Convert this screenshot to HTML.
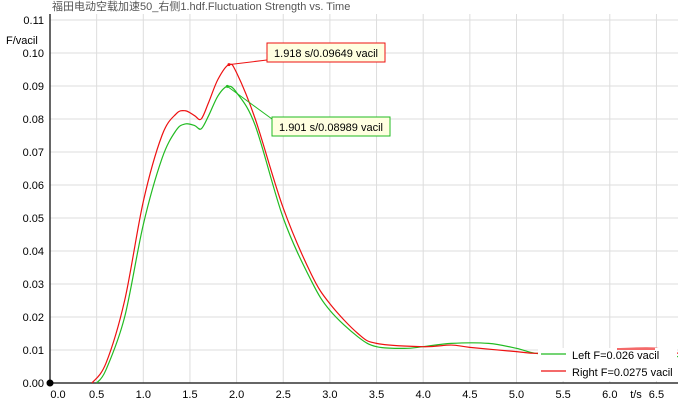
<!DOCTYPE html>
<html><head><meta charset="utf-8"><style>
body{margin:0;background:#fff;}
svg{font-family:"Liberation Sans","Noto Sans CJK SC",sans-serif;}
</style></head><body>
<svg id="c" width="680" height="407">
<text x="52" y="10" font-size="11" fill="#555">福田电动空载加速50_右侧1.hdf.Fluctuation Strength vs. Time</text>
<text x="6" y="44" font-size="11" fill="#000">F/vacil</text>
<g id="grid"></g><g id="ticks"></g><g id="series"></g><g id="ann"></g>
</svg>
<script>
const xTicks=[0.0,0.5,1.0,1.5,2.0,2.5,3.0,3.5,4.0,4.5,5.0,5.5,6.0,6.5];
const yTicks=[0.00,0.01,0.02,0.03,0.04,0.05,0.06,0.07,0.08,0.09,0.10,0.11];
const tRight=[0.45,0.6,0.8,1.0,1.2,1.35,1.45,1.55,1.62,1.7,1.8,1.918,2.0,2.2,2.5,2.8,3.0,3.3,3.5,4.0,4.3,4.5,5.0,5.2,5.5,6.0,6.5,6.73];
const vRight=[0,0.006,0.025,0.055,0.075,0.0815,0.0825,0.081,0.080,0.085,0.092,0.09649,0.094,0.080,0.053,0.033,0.024,0.015,0.012,0.011,0.0115,0.0108,0.0095,0.009,0.0095,0.0103,0.0105,0.009];
const tLeft=[0.5,0.6,0.8,1.0,1.2,1.35,1.45,1.55,1.62,1.7,1.8,1.901,2.0,2.2,2.5,2.8,3.0,3.3,3.5,3.8,4.0,4.3,4.7,5.0,5.2,5.5,6.0,6.5,6.73];
const vLeft=[0,0.004,0.02,0.048,0.068,0.0765,0.0785,0.078,0.077,0.081,0.087,0.08989,0.088,0.078,0.050,0.031,0.022,0.014,0.011,0.0105,0.011,0.012,0.012,0.0105,0.009,0.0085,0.0085,0.0085,0.008];
const X0=50,X1=678,Y0=383,Y1=14;
const sx=t=>X0+t*93.3, sy=v=>Y0-v*3300;
const NS="http://www.w3.org/2000/svg";
function mk(tag,attrs,parent,txt){const e=document.createElementNS(NS,tag);for(const k in attrs)e.setAttribute(k,attrs[k]);if(txt!==undefined)e.textContent=txt;parent.appendChild(e);return e;}
const g=document.getElementById('grid'),tk=document.getElementById('ticks'),s=document.getElementById('series'),an=document.getElementById('ann');
xTicks.forEach(t=>{if(t>0){const l=mk('line',{x1:sx(t),x2:sx(t),y1:Y1,y2:Y0,stroke:'#ddd'},g);

}
const lbl=t===6.5?'6.5':t.toFixed(1);
const tx=mk('text',{x:t===0?58:sx(t),y:398,'font-size':11,'text-anchor':'middle'},tk,lbl);

});
yTicks.forEach(v=>{if(v>0){const l=mk('line',{x1:X0,x2:X1,y1:sy(v),y2:sy(v),stroke:'#ddd'},g);

}
const tx=mk('text',{x:44,y:sy(v)+4,'font-size':11,'text-anchor':'end'},tk,v.toFixed(2));

});
const tl=mk('text',{x:636,y:398,'font-size':11,'text-anchor':'middle'},tk,'t/s');


const ax=mk('path',{d:`M${X0},${Y1}V${Y0}H${X1}`,fill:'none',stroke:'#333','stroke-width':1.5},tk);


const dot=mk('circle',{cx:X0,cy:Y0,r:3.5,fill:'#000'},tk);


function smooth(pts){let d=`M${pts[0][0]},${pts[0][1]}`;
for(let i=0;i<pts.length-1;i++){const p0=pts[Math.max(i-1,0)],p1=pts[i],p2=pts[i+1],p3=pts[Math.min(i+2,pts.length-1)];
const c1=[p1[0]+(p2[0]-p0[0])/6,p1[1]+(p2[1]-p0[1])/6],c2=[p2[0]-(p3[0]-p1[0])/6,p2[1]-(p3[1]-p1[1])/6];
d+=`C${c1[0]},${c1[1]} ${c2[0]},${c2[1]} ${p2[0]},${p2[1]}`;}return d;}
function line(ts,vs,col,name){const p=mk('path',{d:smooth(ts.map((t,i)=>[sx(t),sy(vs[i])])),fill:'none',stroke:col,'stroke-width':1.2},s);

}
line(tLeft,vLeft,'#22bb22','left-series-line');
line(tRight,vRight,'#ee1111','right-series-line');
const lg=mk('g',{},an);


mk('rect',{x:538,y:348,width:139,height:33,fill:'#fff'},lg);
mk('line',{x1:541,x2:566,y1:354,y2:354,stroke:'#22bb22','stroke-width':1.2},lg);
mk('line',{x1:541,x2:566,y1:371,y2:371,stroke:'#ee1111','stroke-width':1.2},lg);
const l1=mk('text',{x:572,y:359,'font-size':11},lg,'Left F=0.026 vacil');


const l2=mk('text',{x:572,y:376,'font-size':11},lg,'Right F=0.0275 vacil');


mk('line',{x1:617,x2:655,y1:349,y2:349,stroke:'#ee1111','stroke-width':1.2},lg);
function ann(t,v,bx,by,txt,col,name){mk('line',{x1:sx(t),y1:sy(v),x2:bx,y2:by+(name.includes('right')?17:2),stroke:col},an);
mk('circle',{cx:sx(t),cy:sy(v),r:1.5,fill:col},an);
const r=mk('rect',{x:bx,y:by,width:118,height:19,fill:'#ffffe0',stroke:col},an);


mk('text',{x:bx+59,y:by+14,'font-size':11,'text-anchor':'middle'},an,txt);}
ann(tRight[11],vRight[11],267,43,'1.918 s/0.09649 vacil','#ee1111','right-peak-annotation');
ann(tLeft[11],vLeft[11],272,117,'1.901 s/0.08989 vacil','#22bb22','left-peak-annotation');
</script>
</body></html>
